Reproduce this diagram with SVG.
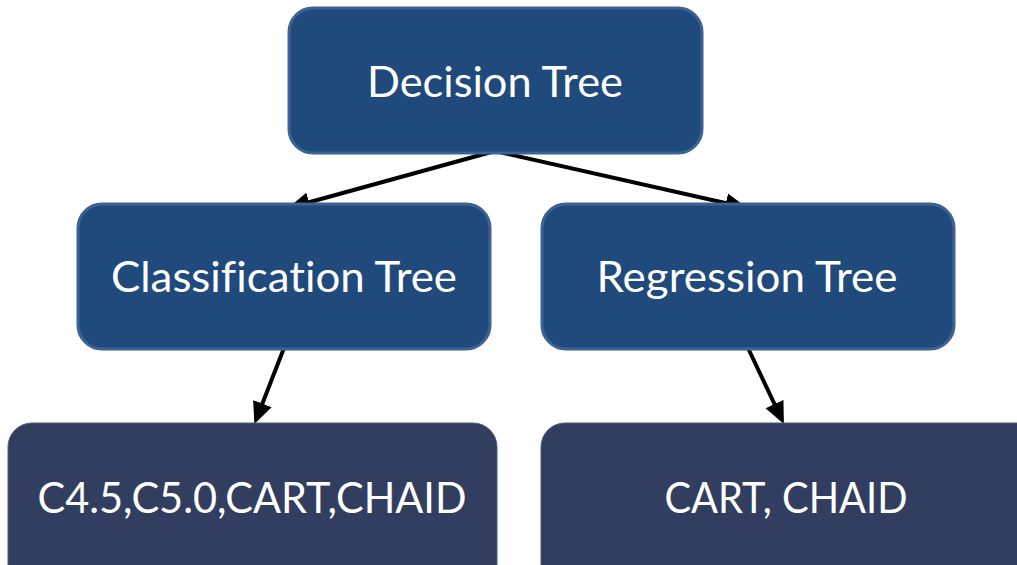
<svg xmlns="http://www.w3.org/2000/svg" width="1017" height="565" viewBox="0 0 1017 565">
  <style>
    .top { fill: #214a7c; stroke: #3c6392; stroke-width: 3; }
    .leaf { fill: #323e5f; stroke: #4a5a80; stroke-width: 1; }
    .label { fill: #ffffff; font-family: Lato, "Open Sans", "Liberation Sans", sans-serif; font-size: 42px; text-anchor: middle; font-variant-ligatures: none; font-feature-settings: "liga" 0; }
    .edge { stroke: #000000; stroke-width: 4; fill: none; marker-end: url(#arrow); }
  </style>
  <defs>
    <marker id="arrow" viewBox="0 0 10 10" refX="8" refY="5" markerWidth="5.5" markerHeight="5.5" orient="auto" markerUnits="strokeWidth">
      <path d="M0,0.5 L10,5 L0,9.5 z" fill="#000000"/>
    </marker>
  </defs>
  <rect width="1017" height="565" fill="#ffffff"/>

  <g id="edges">
    <line class="edge" x1="495" y1="151" x2="292" y2="207"/>
    <line class="edge" x1="495" y1="151" x2="743" y2="207"/>
    <line class="edge" x1="284" y1="348" x2="256" y2="420"/>
    <line class="edge" x1="748" y1="348" x2="782" y2="420"/>
  </g>

  <g id="decision-tree">
    <rect class="top" x="289" y="8" width="413" height="145" rx="24"/>
    <text class="label" x="495" y="97" textLength="256" lengthAdjust="spacingAndGlyphs">Decision Tree</text>
  </g>

  <g id="classification-tree">
    <rect class="top" x="78" y="204" width="412" height="145" rx="24"/>
    <text class="label" x="284" y="292" textLength="346" lengthAdjust="spacingAndGlyphs">Classification Tree</text>
  </g>

  <g id="regression-tree">
    <rect class="top" x="542" y="204" width="412" height="145" rx="24"/>
    <text class="label" x="747" y="292" textLength="301" lengthAdjust="spacingAndGlyphs">Regression Tree</text>
  </g>

  <g id="classification-algorithms">
    <rect class="leaf" x="8" y="423" width="489" height="170" rx="24"/>
    <text class="label" x="252" y="513" textLength="429" lengthAdjust="spacingAndGlyphs">C4.5,C5.0,CART,CHAID</text>
  </g>

  <g id="regression-algorithms">
    <rect class="leaf" x="541" y="423" width="500" height="170" rx="24"/>
    <text class="label" x="786" y="513" textLength="243" lengthAdjust="spacingAndGlyphs">CART, CHAID</text>
  </g>
</svg>
